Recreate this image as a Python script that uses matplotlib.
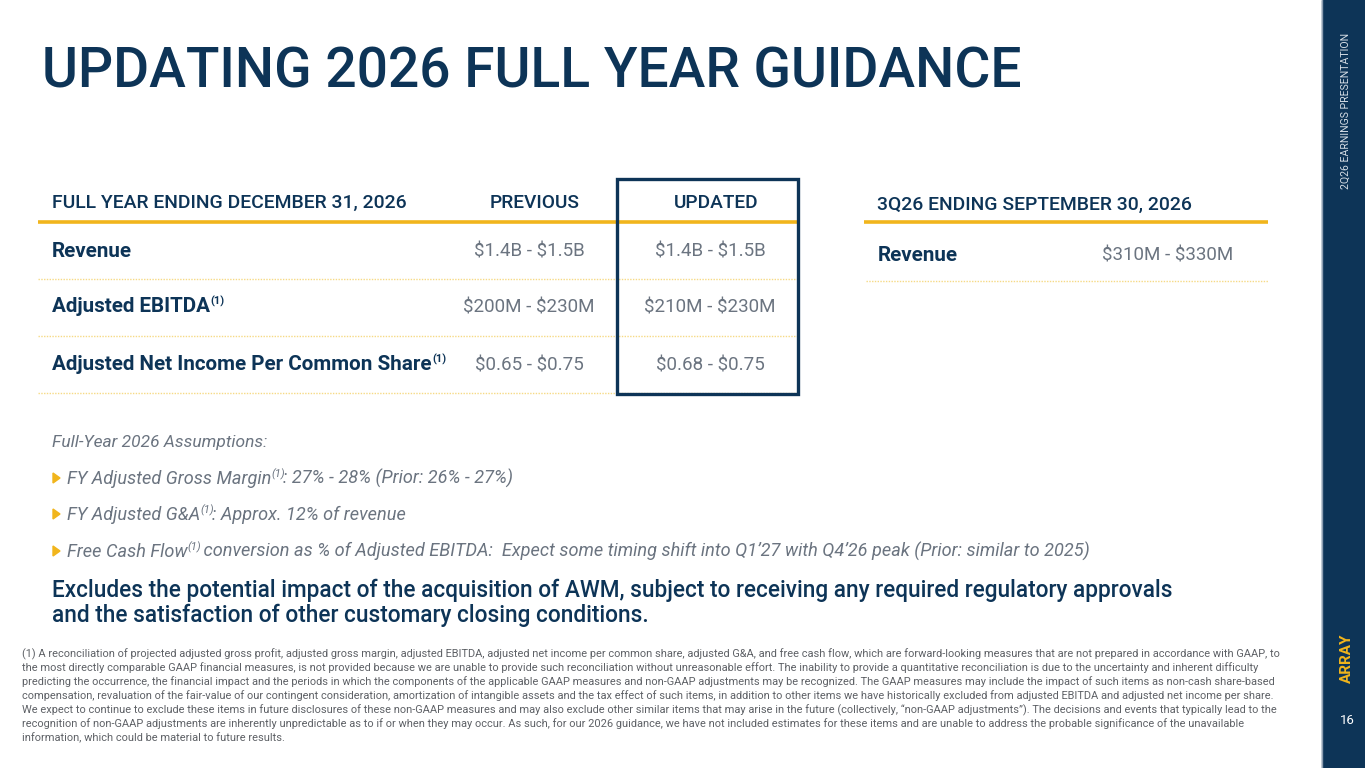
import matplotlib
matplotlib.use("Agg")
import matplotlib.pyplot as plt
from matplotlib.patches import Rectangle, Polygon

# ---------------- data ----------------
title = "UPDATING 2026 FULL YEAR GUIDANCE"
side_label = "2Q26 EARNINGS PRESENTATION"
brand = "ARRAY"
page_no = "16"

fy_header = "FULL YEAR ENDING DECEMBER 31, 2026"
col_headers = ["PREVIOUS", "UPDATED"]
fy_metrics = ["Revenue", "Adjusted EBITDA", "Adjusted Net Income Per Common Share"]
fy_marks = ["", "(1)", "(1)"]
fy_previous = ["$1.4B - $1.5B", "$200M - $230M", "$0.65 - $0.75"]
fy_updated = ["$1.4B - $1.5B", "$210M - $230M", "$0.68 - $0.75"]

q_header = "3Q26 ENDING SEPTEMBER 30, 2026"
q_metrics = ["Revenue"]
q_values = ["$310M - $330M"]

assump_title = "Full-Year 2026 Assumptions:"
assump_lead = ["FY Adjusted Gross Margin", "FY Adjusted G&A", "Free Cash Flow"]
assump_rest = [": 27% - 28% (Prior: 26% - 27%)",
               ": Approx. 12% of revenue",
               " conversion as % of Adjusted EBITDA:  Expect some timing shift into Q1\u201927 with Q4\u201926 peak (Prior: similar to 2025)"]

excludes = ["Excludes the potential impact of the acquisition of AWM, subject to receiving any required regulatory approvals",
            "and the satisfaction of other customary closing conditions."]

footnote = [
    "(1) A reconciliation of projected adjusted gross profit, adjusted gross margin, adjusted EBITDA, adjusted net income per common share, adjusted G&A, and free cash flow, which are forward-looking measures that are not prepared in accordance with GAAP, to",
    "the most directly comparable GAAP financial measures, is not provided because we are unable to provide such reconciliation without unreasonable effort. The inability to provide a quantitative reconciliation is due to the uncertainty and inherent difficulty",
    "predicting the occurrence, the financial impact and the periods in which the components of the applicable GAAP measures and non-GAAP adjustments may be recognized. The GAAP measures may include the impact of such items as non-cash share-based",
    "compensation, revaluation of the fair-value of our contingent consideration, amortization of intangible assets and the tax effect of such items, in addition to other items we have historically excluded from adjusted EBITDA and adjusted net income per share.",
    "We expect to continue to exclude these items in future disclosures of these non-GAAP measures and may also exclude other similar items that may arise in the future (collectively, \u201cnon-GAAP adjustments\u201d). The decisions and events that typically lead to the",
    "recognition of non-GAAP adjustments are inherently unpredictable as to if or when they may occur. As such, for our 2026 guidance, we have not included estimates for these items and are unable to address the probable significance of the unavailable",
    "information, which could be material to future results.",
]

# ---------------- style ----------------
NAVY = "#0D3457"
GOLD = "#F1B51C"
LGOLD = "#F6DA85"
GRAY = "#6B7480"
FGRAY = "#5E6166"
FONT = "Roboto"
plt.rcParams["font.family"] = [FONT, "DejaVu Sans"]

W, H = 1365, 768
fig = plt.figure(figsize=(W / 100, H / 100), dpi=100)
ax = fig.add_axes([0, 0, 1, 1])
ax.set_xlim(0, W)
ax.set_ylim(H, 0)
ax.axis("off")
R = fig.canvas.get_renderer()


def wid(t):
    return t.get_window_extent(R).width


def txt(x, y, s, **kw):
    kw.setdefault("va", "baseline")
    kw.setdefault("parse_math", False)
    return ax.text(x, y, s, **kw)


def fit(t, target):
    t.set_fontsize(t.get_fontsize() * target / wid(t))
    return t


def with_sup(x, y, main, sup, size, sup_size=None, gap=0.5, **kw):
    t = txt(x, y, main, fontsize=size, **kw)
    x2 = x + wid(t)
    if sup:
        s = txt(x2 + gap, y - size * 0.5, sup, fontsize=sup_size or size * 0.62, **kw)
        x2 = x2 + gap + wid(s)
    return x2


# ---------------- sidebar ----------------
ax.add_patch(Rectangle((1322, 0), 43, H, color=NAVY, zorder=1))
ax.plot([1322, 1322], [0, H], color="#8C9DB0", lw=1.0, zorder=2)
ax.text(1346, 33, side_label, rotation=90, color="#D5DDE5", fontsize=7.6,
        ha="center", va="top", zorder=3)
ax.text(1347, 658, brand, rotation=90, color=GOLD, fontsize=11, fontweight="bold",
        ha="center", va="center", zorder=3)
ax.text(1347, 720, page_no, color="white", fontsize=9.5, ha="center", va="center", zorder=3)

# ---------------- title ----------------
tt = txt(42, 88, title, color=NAVY, fontsize=40, fontweight="medium")
fit(tt, 978)

# ---------------- full year table ----------------
h = txt(52, 208, fy_header, color=NAVY, fontsize=13.5, fontweight="medium")
fit(h, 356)
col_x = [535, 716]
val_x = [529, 710]
for cx, ch in zip(col_x, col_headers):
    txt(cx, 208, ch, color=NAVY, fontsize=13.8, fontweight="medium", ha="center")

ax.plot([38, 798], [222, 222], color=GOLD, lw=2.6, solid_capstyle="butt", zorder=2)
probe = txt(0, -100, fy_metrics[-1], fontsize=12, fontweight="bold")
lab_size = 12 * 381 / wid(probe)
probe.remove()
probe = txt(0, -100, fy_previous[1], fontsize=12)
val_size = 12 * 131 / wid(probe)
probe.remove()

row_y = [257, 312, 370]
sep_y = [279, 336, 393]
for i, (m, mk, pv, uv) in enumerate(zip(fy_metrics, fy_marks, fy_previous, fy_updated)):
    with_sup(52, row_y[i], m, mk, lab_size, sup_size=8.0, color=NAVY, fontweight="bold")
    txt(val_x[0], row_y[i], pv, color=GRAY, fontsize=val_size, ha="center")
    txt(val_x[1], row_y[i], uv, color=GRAY, fontsize=val_size, ha="center")
    ax.plot([38, 798], [sep_y[i], sep_y[i]], color=LGOLD, lw=1.0, ls=(0, (1, 1)), zorder=2)

ax.add_patch(Rectangle((617, 179), 181, 215, fill=False, edgecolor=NAVY, lw=2.4, zorder=4))

# ---------------- quarter table ----------------
qh = txt(877, 210, q_header, color=NAVY, fontsize=13.5, fontweight="medium")
fit(qh, 315)
ax.plot([864, 1268], [222, 222], color=GOLD, lw=2.6, solid_capstyle="butt", zorder=2)
for i, (m, v) in enumerate(zip(q_metrics, q_values)):
    y = 261 + i * 57
    txt(878, y, m, color=NAVY, fontsize=lab_size, fontweight="bold")
    txt(1168, y, v, color=GRAY, fontsize=val_size, ha="center")
    ax.plot([866, 1268], [y + 20, y + 20], color=LGOLD, lw=1.0, ls=(0, (1, 1)), zorder=2)

# ---------------- assumptions ----------------
txt(52, 447, assump_title, color=GRAY, fontsize=12.5, style="italic")
ay = [484, 520, 557]
for y, lead, rest in zip(ay, assump_lead, assump_rest):
    ax.add_patch(Polygon([[53, y - 11], [53, y - 1], [60, y - 6]], closed=True, color=GOLD, zorder=3))
    x2 = with_sup(67, y, lead, "(1)", 13.1, sup_size=8.0, gap=0.0, color=GRAY, style="italic")
    txt(x2 - 2, y, rest, color=GRAY, fontsize=13.1, style="italic")

# ---------------- excludes note ----------------
e0 = txt(52, 597, excludes[0], color=NAVY, fontsize=14, fontweight="medium")
fit(e0, 1124)
for k, line in enumerate(excludes[1:], start=1):
    txt(52, 597 + 25 * k, line, color=NAVY, fontsize=e0.get_fontsize(), fontweight="medium")

# ---------------- footnote ----------------
f0 = txt(22, 657, footnote[0], color=FGRAY, fontsize=7.5)
fit(f0, 1259)
for k, line in enumerate(footnote[1:], start=1):
    txt(22, 657 + 14 * k, line, color=FGRAY, fontsize=f0.get_fontsize())

fig.savefig("out.png", dpi=100, facecolor="white")
